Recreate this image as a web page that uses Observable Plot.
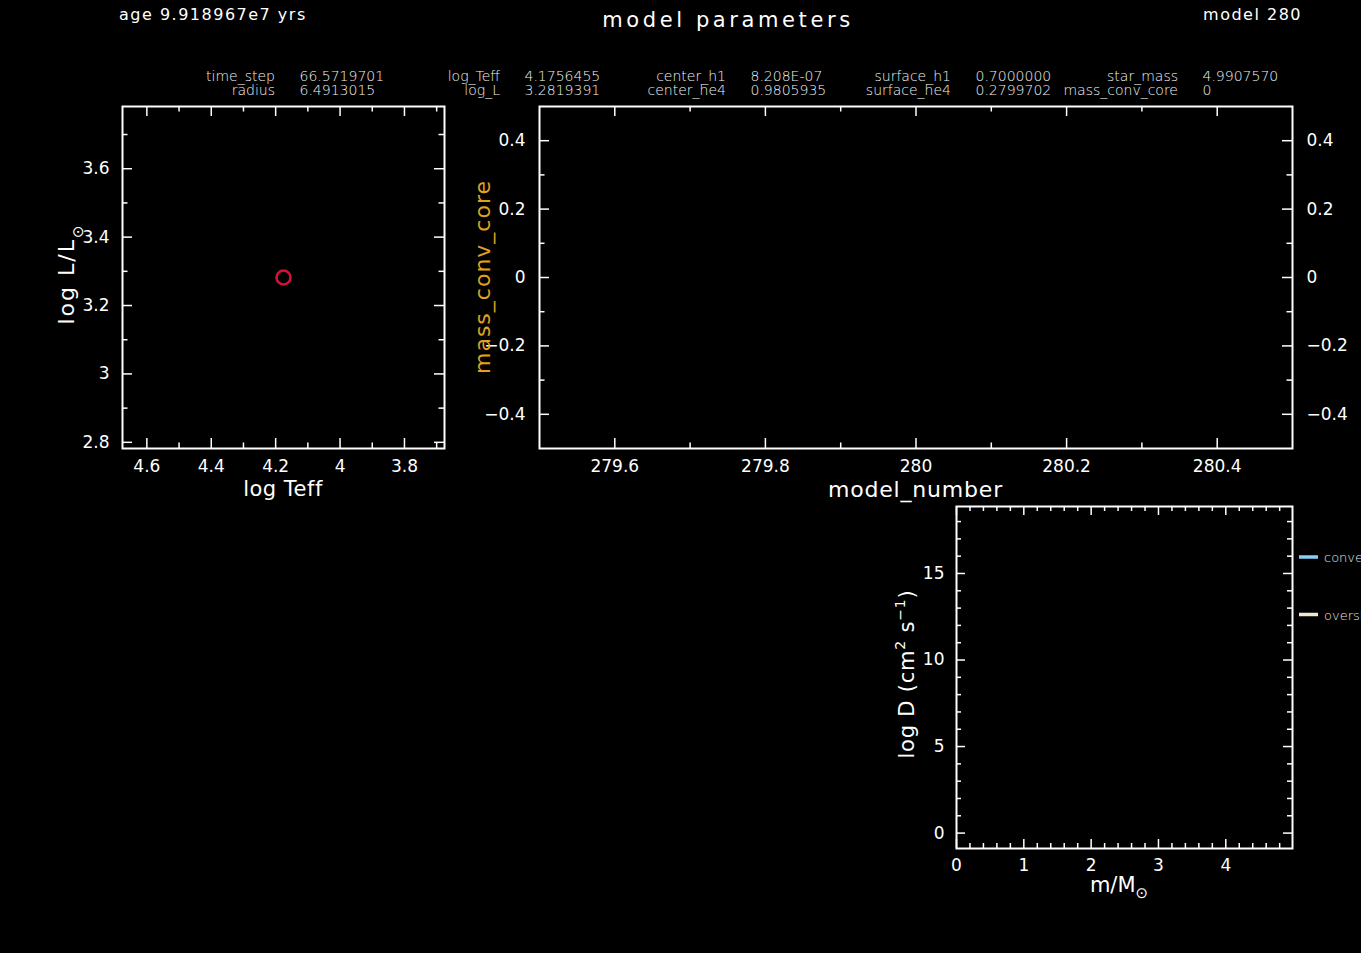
<!DOCTYPE html>
<html><head><meta charset="utf-8">
<script src="https://cdn.jsdelivr.net/npm/d3@7"></script>
<script src="https://cdn.jsdelivr.net/npm/@observablehq/plot@0.6"></script>
<style>
html,body{margin:0;padding:0;background:#000;overflow:hidden;}
#wrap{position:relative;width:1361px;height:953px;background:#000;overflow:hidden;}
#wrap svg{position:absolute;left:0;top:0;max-width:none;}
</style></head><body><div id="wrap"></div>
<script>
// ---------------- data ----------------
const ageText = "age 9.918967e7 yrs";
const titleText = "model parameters";
const modelText = "model 280";
const summaryLabelsTop = ["time_step", "log_Teff", "center_h1", "surface_h1", "star_mass"];
const summaryValuesTop = ["66.5719701", "4.1756455", "8.208E-07", "0.7000000", "4.9907570"];
const summaryLabelsBottom = ["radius", "log_L", "center_he4", "surface_he4", "mass_conv_core"];
const summaryValuesBottom = ["6.4913015", "3.2819391", "0.9805935", "0.2799702", "0"];

const logTeff = [4.1756455];
const logL = [3.2819391];
const modelNumber = [280];
const massConvCore = [0];
const starMass = 4.9907570;

const hrXMajor = [4.6, 4.4, 4.2, 4.0, 3.8];
const hrXMinor = [4.5, 4.3, 4.1, 3.9, 3.7];
const hrYMajor = [2.8, 3.0, 3.2, 3.4, 3.6];
const hrYMinor = [2.9, 3.1, 3.3, 3.5, 3.7];
const hsXMajor = [279.6, 279.8, 280, 280.2, 280.4];
const hsXMinor = [279.7, 279.9, 280.1, 280.3];
const hsYMajor = [-0.4, -0.2, 0, 0.2, 0.4];
const hsYMinor = [-0.3, -0.1, 0.1, 0.3];
const mxXMajor = [0, 1, 2, 3, 4];
const mxXMinor = [0.2, 0.4, 0.6, 0.8, 1.2, 1.4, 1.6, 1.8, 2.2, 2.4, 2.6, 2.8, 3.2, 3.4, 3.6, 3.8, 4.2, 4.4, 4.6, 4.8];
const mxYMajor = [0, 5, 10, 15];
const mxYMinor = [1, 2, 3, 4, 6, 7, 8, 9, 11, 12, 13, 14, 16, 17, 18];
const mxYDomain = [-0.89, 18.87];
const legendLabels = ["convection", "overshoot"];
const legendColors = ["#87cefa", "#efe9cf"];

// ---------------- layout ----------------
const W = 1361, H = 953;
const FONT = "DejaVu Sans, Verdana, sans-serif";
const fmt = d3.format("");
const wrap = document.getElementById("wrap");

function ticksFor(xMaj, xMin, yMaj, yMin, fw, fh, maj, min) {
  const st = {stroke: "white", strokeWidth: 1.5};
  return [
    Plot.tickX(xMaj, {x: d => d, insetTop: fh - maj, ...st}),
    Plot.tickX(xMaj, {x: d => d, insetBottom: fh - maj, ...st}),
    Plot.tickX(xMin, {x: d => d, insetTop: fh - min, ...st}),
    Plot.tickX(xMin, {x: d => d, insetBottom: fh - min, ...st}),
    Plot.tickY(yMaj, {y: d => d, insetRight: fw - maj, ...st}),
    Plot.tickY(yMaj, {y: d => d, insetLeft: fw - maj, ...st}),
    Plot.tickY(yMin, {y: d => d, insetRight: fw - min, ...st}),
    Plot.tickY(yMin, {y: d => d, insetLeft: fw - min, ...st})
  ];
}

function panel(rect, xDomain, yDomain, marks) {
  const [x0, y0, x1, y1] = rect;
  const p = Plot.plot({
    width: W, height: H,
    marginLeft: x0, marginRight: W - x1, marginTop: y0, marginBottom: H - y1,
    x: {type: "linear", domain: xDomain},
    y: {type: "linear", domain: yDomain},
    style: {background: "transparent", color: "white", fontFamily: FONT, fontSize: "17px"},
    marks
  });
  wrap.appendChild(p);
}

// HR panel
const hr = [122, 106, 444, 448];
panel(hr, [logTeff[0] + 0.5, logTeff[0] - 0.5], [logL[0] - 0.5, logL[0] + 0.5], [
  Plot.frame({stroke: "white", strokeWidth: 2}),
  ...ticksFor(hrXMajor, hrXMinor, hrYMajor, hrYMinor, hr[2] - hr[0], hr[3] - hr[1], 10, 5.5),
  Plot.axisX(hrXMajor, {anchor: "bottom", tickSize: 0, tickPadding: 11, tickFormat: fmt, label: null, fontSize: 17}),
  Plot.axisY(hrYMajor, {anchor: "left", tickSize: 0, tickPadding: 13, tickFormat: fmt, label: null, fontSize: 17}),
  Plot.dot(logTeff.map((t, i) => ({t, l: logL[i]})), {x: "t", y: "l", r: 7, stroke: "#d3123c", strokeWidth: 2.6, fill: "none"})
]);

// history panel
const hs = [539, 106, 1292, 448];
panel(hs, [modelNumber[0] - 0.5, modelNumber[0] + 0.5], [-0.5, 0.5], [
  Plot.frame({stroke: "white", strokeWidth: 2}),
  ...ticksFor(hsXMajor, hsXMinor, hsYMajor, hsYMinor, hs[2] - hs[0], hs[3] - hs[1], 10, 5.5),
  Plot.axisX(hsXMajor, {anchor: "bottom", tickSize: 0, tickPadding: 11, tickFormat: fmt, label: null, fontSize: 17}),
  Plot.axisY(hsYMajor, {anchor: "left", tickSize: 0, tickPadding: 14, tickFormat: fmt, label: null, fontSize: 17}),
  Plot.axisY(hsYMajor, {anchor: "right", tickSize: 0, tickPadding: 14, tickFormat: fmt, label: null, fontSize: 17}),
  Plot.line(modelNumber.map((m, i) => ({m, v: massConvCore[i]})), {x: "m", y: "v", stroke: "#e0a21e", strokeWidth: 2, strokeLinecap: "butt"})
]);

// mixing panel
const mx = [956, 506, 1292, 848];
panel(mx, [0, starMass], mxYDomain, [
  Plot.frame({stroke: "white", strokeWidth: 2}),
  ...ticksFor(mxXMajor, mxXMinor, mxYMajor, mxYMinor, mx[2] - mx[0], mx[3] - mx[1], 9, 5),
  Plot.axisX(mxXMajor, {anchor: "bottom", tickSize: 0, tickPadding: 10, tickFormat: fmt, label: null, fontSize: 17}),
  Plot.axisY(mxYMajor, {anchor: "left", tickSize: 0, tickPadding: 12, tickFormat: fmt, label: null, fontSize: 17})
]);

// ---------------- text overlay ----------------
const svg = d3.create("svg").attr("width", W).attr("height", H)
  .attr("font-family", FONT).attr("fill", "white");

svg.append("text").attr("x", 119).attr("y", 20).attr("font-size", 16).attr("letter-spacing", 1.5).text(ageText);
svg.append("text").attr("x", 728).attr("y", 26.5).attr("font-size", 21).attr("letter-spacing", 3.6)
  .attr("text-anchor", "middle").text(titleText);
svg.append("text").attr("x", 1302).attr("y", 20).attr("font-size", 16).attr("letter-spacing", 1.5)
  .attr("text-anchor", "end").text(modelText);

const colRight = [275, 500, 726, 951, 1178];
const rows = [[summaryLabelsTop, summaryValuesTop, 81], [summaryLabelsBottom, summaryValuesBottom, 94.5]];
const sg = svg.append("g").attr("font-size", 14).attr("font-weight", 200).attr("fill", "#f2f2f2");
for (const [labs, vals, y] of rows) {
  labs.forEach((l, i) => {
    sg.append("text").attr("x", colRight[i]).attr("y", y).attr("text-anchor", "end").text(l);
    sg.append("text").attr("x", colRight[i] + 24.5).attr("y", y).text(vals[i]);
  });
}

// axis titles
svg.append("text").attr("x", (hr[0] + hr[2]) / 2).attr("y", 496).attr("font-size", 21).attr("letter-spacing", 0.5)
  .attr("text-anchor", "middle").text("log Teff");
const hy = svg.append("text").attr("transform", "translate(74,274) rotate(-90)").attr("font-size", 22)
  .attr("letter-spacing", 2).attr("text-anchor", "middle");
hy.append("tspan").text("log L/L");
hy.append("tspan").attr("dy", 8.5).attr("font-size", 15).text("⊙");

svg.append("text").attr("x", (hs[0] + hs[2]) / 2).attr("y", 497).attr("font-size", 22).attr("letter-spacing", 0.8)
  .attr("text-anchor", "middle").text("model_number");
svg.append("text").attr("transform", `translate(490,${(hs[1] + hs[3]) / 2}) rotate(-90)`).attr("font-size", 22)
  .attr("letter-spacing", 1).attr("text-anchor", "middle").attr("fill", "#e0a21e").text("mass_conv_core");

const my = svg.append("text").attr("transform", "translate(914,674) rotate(-90)").attr("font-size", 21)
  .attr("letter-spacing", 0.8).attr("text-anchor", "middle");
my.append("tspan").text("log D (cm");
my.append("tspan").attr("dy", -9).attr("font-size", 14).text("2");
my.append("tspan").attr("dy", 9).text(" s");
my.append("tspan").attr("dy", -9).attr("font-size", 14).text("−1");
my.append("tspan").attr("dy", 9).text(")");

const mxl = svg.append("text").attr("x", (mx[0] + mx[2]) / 2 - 5).attr("y", 892).attr("font-size", 21)
  .attr("text-anchor", "middle");
mxl.append("tspan").text("m/M");
mxl.append("tspan").attr("dy", 6).attr("font-size", 15).text("⊙");

// legend
const legY = [557, 614.5];
legendLabels.forEach((lab, i) => {
  svg.append("line").attr("x1", 1299).attr("x2", 1318).attr("y1", legY[i]).attr("y2", legY[i])
    .attr("stroke", legendColors[i]).attr("stroke-width", 3.5);
  svg.append("text").attr("x", 1324).attr("y", legY[i] + 5).attr("font-size", 13).attr("font-weight", 200)
    .attr("fill", "#e8e8e8").text(lab);
});

wrap.appendChild(svg.node());
</script></body></html>
